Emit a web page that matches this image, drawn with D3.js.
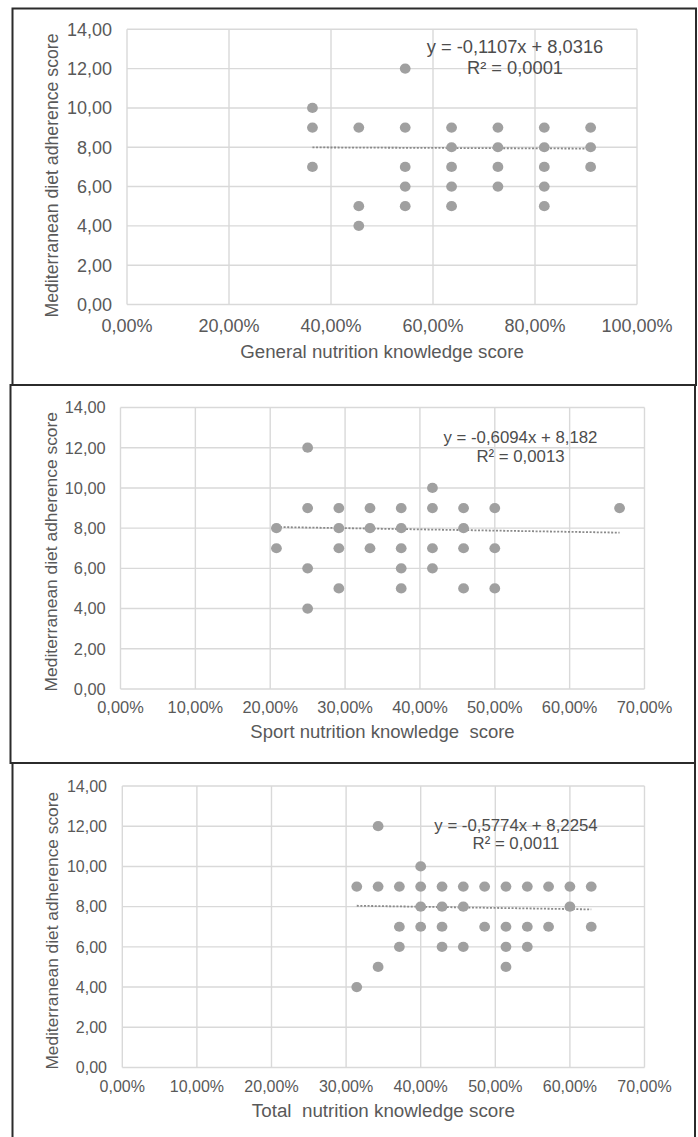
<!DOCTYPE html>
<html>
<head>
<meta charset="utf-8">
<script src="https://cdn.jsdelivr.net/npm/d3@7"></script>
<style>
  html, body { margin: 0; padding: 0; background: #fff; }
  svg { display: block; }
  text { font-family: "Liberation Sans", Arial, sans-serif; fill: #595959; }
</style>
</head>
<body>
<svg id="chart" width="698" height="1137"></svg>
<script>
// ---------- DATA ----------
// Panel 1: General nutrition knowledge score (%) vs adherence
const generalKnowledge = [36.36, 36.36, 36.36, 45.45, 45.45, 45.45,
  54.55, 54.55, 54.55, 54.55, 54.55, 63.64, 63.64, 63.64, 63.64, 63.64,
  72.73, 72.73, 72.73, 72.73, 81.82, 81.82, 81.82, 81.82, 81.82,
  90.91, 90.91, 90.91];
const generalAdherence = [10, 9, 7, 9, 5, 4,
  12, 9, 7, 6, 5, 9, 8, 7, 6, 5,
  9, 8, 7, 6, 9, 8, 7, 6, 5,
  9, 8, 7];

// Panel 2: Sport nutrition knowledge score (%) vs adherence
const sportKnowledge = [20.83, 20.83, 25, 25, 25, 25,
  29.17, 29.17, 29.17, 29.17, 33.33, 33.33, 33.33,
  37.5, 37.5, 37.5, 37.5, 37.5, 41.67, 41.67, 41.67, 41.67,
  45.83, 45.83, 45.83, 45.83, 50, 50, 50, 66.67];
const sportAdherence = [8, 7, 12, 9, 6, 4,
  9, 8, 7, 5, 9, 8, 7,
  9, 8, 7, 6, 5, 10, 9, 7, 6,
  9, 8, 7, 5, 9, 7, 5, 9];

// Panel 3: Total nutrition knowledge score (%) vs adherence
const totalKnowledge = [31.43, 31.43, 34.29, 34.29, 34.29,
  37.14, 37.14, 37.14, 40, 40, 40, 40,
  42.86, 42.86, 42.86, 42.86, 45.71, 45.71, 45.71,
  48.57, 48.57, 51.43, 51.43, 51.43, 51.43,
  54.29, 54.29, 54.29, 57.14, 57.14, 60, 60, 62.86, 62.86];
const totalAdherence = [9, 4, 12, 9, 5,
  9, 7, 6, 10, 9, 8, 7,
  9, 8, 7, 6, 9, 8, 6,
  9, 7, 9, 7, 6, 5,
  9, 7, 6, 9, 7, 9, 8, 9, 7];

// Linear trend lines (Excel)
const trendSlopes = [-0.1107, -0.6094, -0.5774];
const trendIntercepts = [8.0316, 8.182, 8.2254];
const equationLabels = ["y = -0,1107x + 8,0316", "y = -0,6094x + 8,182", "y = -0,5774x + 8,2254"];
const r2Labels = ["R² = 0,0001", "R² = 0,0013", "R² = 0,0011"];

// Axis labels / ticks
const xTitles = ["General nutrition knowledge score", "Sport nutrition knowledge  score", "Total  nutrition knowledge score"];
const yTitle = "Mediterranean diet adherence score";
const xMaxes = [1.0, 0.7, 0.7];
const xTickSteps = [0.2, 0.1, 0.1];
const yTicks = [0, 2, 4, 6, 8, 10, 12, 14];

// ---------- LAYOUT (per panel) ----------
const layouts = [
  { frame: [12.5, 8.5, 683.5, 376.5], plot: [127, 637, 29.3, 304.5], tickFs: 18, xTickCy: 326, yTickRight: 112,
    xTitleY: 357.5, xTitleFs: 18.7, yTitleX: 57.5, yTitleCy: 175.5, yTitleFs: 17.7,
    eqX: 515, eqY: [53, 74], eqFs: 18.3 },
  { frame: [10.5, 385, 684.5, 378], plot: [120.5, 644.5, 407.5, 689], tickFs: 16.4, xTickCy: 707.5, yTickRight: 105.7,
    xTitleY: 737.5, xTitleFs: 18.5, yTitleX: 56.5, yTitleCy: 551.7, yTitleFs: 17.4,
    eqX: 520.5, eqY: [443, 461.5], eqFs: 16.8 },
  { frame: [12.5, 763, 682.5, 380], plot: [122.3, 644.5, 786, 1067.5], tickFs: 16, xTickCy: 1086.5, yTickRight: 107,
    xTitleY: 1117, xTitleFs: 18.8, yTitleX: 57.5, yTitleCy: 930.8, yTitleFs: 17.3,
    eqX: 516, eqY: [830.5, 849], eqFs: 16.8 }
];

const datasets = [
  [generalKnowledge, generalAdherence],
  [sportKnowledge, sportAdherence],
  [totalKnowledge, totalAdherence]
];

const loc = d3.formatLocale({ decimal: ",", thousands: ".", grouping: [3], currency: ["", "€"] });
const fmtY = loc.format(".2f");
const fmtX = loc.format(".2%");

const svg = d3.select("#chart");
svg.append("rect").attr("width", 698).attr("height", 1137).attr("fill", "#fff");

datasets.forEach(([xs, ys], i) => {
  const L = layouts[i];
  const g = svg.append("g");
  const x = d3.scaleLinear().domain([0, xMaxes[i]]).range([L.plot[0], L.plot[1]]);
  const y = d3.scaleLinear().domain([0, 14]).range([L.plot[3], L.plot[2]]);
  const xTicks = d3.range(0, xMaxes[i] + 1e-9, xTickSteps[i]);

  // gridlines
  g.append("g").selectAll("line.h").data(yTicks).join("line")
    .attr("x1", L.plot[0]).attr("x2", L.plot[1])
    .attr("y1", d => y(d)).attr("y2", d => y(d))
    .attr("stroke", "#d9d9d9").attr("stroke-width", 1.4);
  g.append("g").selectAll("line.v").data(xTicks).join("line")
    .attr("x1", d => x(d)).attr("x2", d => x(d))
    .attr("y1", L.plot[2]).attr("y2", L.plot[3])
    .attr("stroke", "#d9d9d9").attr("stroke-width", 1.4);

  // y tick labels
  g.append("g").selectAll("text").data(yTicks).join("text")
    .attr("x", L.yTickRight).attr("y", d => y(d) + 0.358 * L.tickFs)
    .attr("text-anchor", "end").attr("font-size", L.tickFs)
    .text(d => fmtY(d));
  // x tick labels
  g.append("g").selectAll("text").data(xTicks).join("text")
    .attr("x", d => x(d)).attr("y", L.xTickCy + 0.358 * L.tickFs)
    .attr("text-anchor", "middle").attr("font-size", L.tickFs)
    .text(d => fmtX(d));

  // titles
  g.append("text").attr("x", (L.plot[0] + L.plot[1]) / 2).attr("y", L.xTitleY)
    .attr("text-anchor", "middle").attr("font-size", L.xTitleFs)
    .style("white-space", "pre").attr("xml:space", "preserve")
    .text(xTitles[i]);
  g.append("text").attr("transform", `translate(${L.yTitleX},${L.yTitleCy}) rotate(-90)`)
    .attr("text-anchor", "middle").attr("font-size", L.yTitleFs)
    .text(yTitle);

  // trend line
  const pts = xs.map((v, k) => ({ x: v / 100, y: ys[k] }));
  const [xmin, xmax] = d3.extent(pts, d => d.x);
  const tl = [xmin, xmax].map(v => ({ x: v, y: trendSlopes[i] * v + trendIntercepts[i] }));
  g.append("path")
    .attr("d", d3.line().x(d => x(d.x)).y(d => y(d.y))(tl))
    .attr("fill", "none").attr("stroke", "#8a8a8a").attr("stroke-width", 1.8)
    .attr("stroke-dasharray", "2,1.6");

  // points
  g.append("g").selectAll("ellipse").data(pts).join("ellipse")
    .attr("cx", d => x(d.x)).attr("cy", d => y(d.y))
    .attr("rx", 5.4).attr("ry", 5.1)
    .attr("fill", "#a0a0a0");

  // equation
  g.append("text").attr("x", L.eqX).attr("y", L.eqY[0]).attr("text-anchor", "middle")
    .attr("font-size", L.eqFs).style("fill", "#4d4d4d").text(equationLabels[i]);
  g.append("text").attr("x", L.eqX).attr("y", L.eqY[1]).attr("text-anchor", "middle")
    .attr("font-size", L.eqFs).style("fill", "#4d4d4d").text(r2Labels[i]);

  // frame
  g.append("rect").attr("x", L.frame[0]).attr("y", L.frame[1])
    .attr("width", L.frame[2]).attr("height", L.frame[3])
    .attr("fill", "none").attr("stroke", "#2b2b2b").attr("stroke-width", 2);
});
</script>
</body>
</html>
